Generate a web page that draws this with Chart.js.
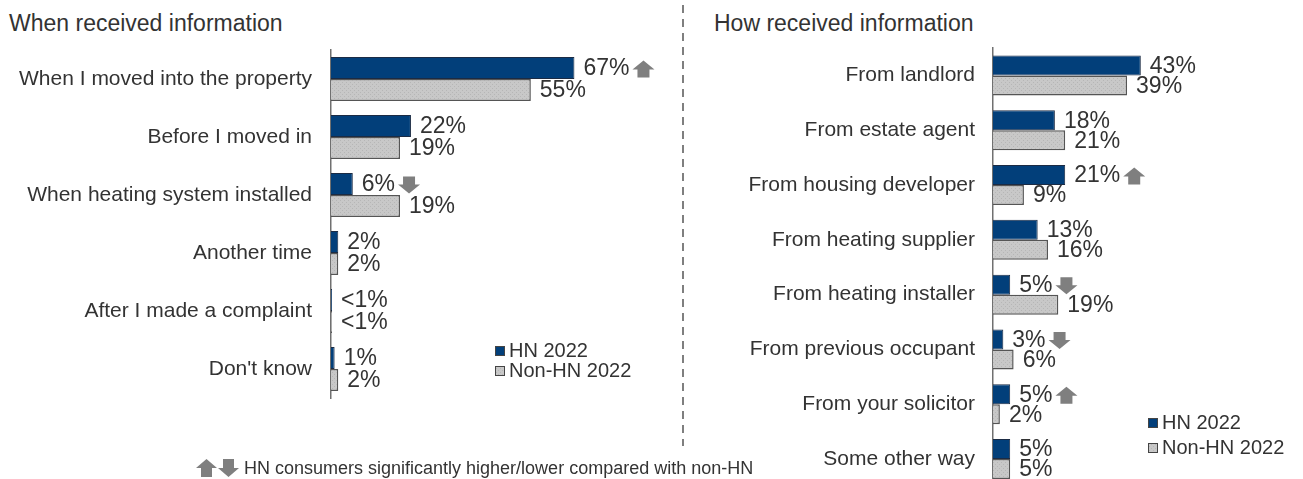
<!DOCTYPE html>
<html>
<head>
<meta charset="utf-8">
<script src="https://cdn.jsdelivr.net/npm/chart.js@4.4.1/dist/chart.umd.min.js"></script>
<style>
  html, body { margin: 0; padding: 0; background: #fff; width: 1303px; height: 479px; overflow: hidden;
    font-family: 'Liberation Sans', Arial, sans-serif; color: #333; }
  .title { position: absolute; top: 9px; font-size: 23px; line-height: 28px; white-space: nowrap; color: #333; }
  #leftBox { position: absolute; left: 0; top: 0; width: 683px; height: 479px; }
  #rightBox { position: absolute; left: 683px; top: 0; width: 620px; height: 500px; }
  #divider { position: absolute; left: 0; top: 0; }
  #footnote { position: absolute; left: 196px; top: 457px; height: 22px; display: flex; align-items: center;
    font-size: 18px; color: #333; white-space: nowrap; }
  #footnote svg { margin-right: 5px; }
</style>
</head>
<body>
<svg id="divider" width="1303" height="479">
  <line x1="683" y1="5" x2="683" y2="446" stroke="#7f7f7f" stroke-width="2" stroke-dasharray="8 6"/>
</svg>
<div class="title" style="left:9px">When received information</div>
<div class="title" style="left:714px">How received information</div>
<div id="leftBox"><canvas id="leftChart" width="683" height="479"></canvas></div>
<div id="rightBox"><canvas id="rightChart" width="620" height="500"></canvas></div>
<div id="footnote">
  <svg width="43" height="18" viewBox="0 0 43 18">
    <path d="M0 9 L10.5 0 L21 9 L16 9 L16 18 L5 18 L5 9 Z" fill="#7f7f7f"/>
    <path d="M22 9 L27 9 L27 0 L38 0 L38 9 L43 9 L32.5 18 Z" fill="#7f7f7f"/>
  </svg>
  <span>HN consumers significantly higher/lower compared with non-HN</span>
</div>

<script>
// ---- Data: when the information was received ----
const whenCategories = [
  'When I moved into the property',
  'Before I moved in',
  'When heating system installed',
  'Another time',
  'After I made a complaint',
  "Don't know"
];
const whenHN    = [67, 22, 6, 2, 0.3, 1];
const whenNonHN = [55, 19, 19, 2, 0.3, 2];
const whenSignificance = ['up', null, 'down', null, null, null];

// ---- Data: how the information was received ----
const howCategories = [
  'From landlord',
  'From estate agent',
  'From housing developer',
  'From heating supplier',
  'From heating installer',
  'From previous occupant',
  'From your solicitor',
  'Some other way'
];
const howHN    = [43, 18, 21, 13, 5, 3, 5, 5];
const howNonHN = [39, 21, 9, 16, 19, 6, 2, 5];
const howSignificance = [null, null, 'up', null, 'down', 'down', 'up', null];

const seriesNames = ['HN 2022', 'Non-HN 2022'];

const FONT = "'Liberation Sans', Arial, sans-serif";
Chart.defaults.font.family = FONT;
Chart.defaults.color = '#333';

const NAVY = '#023f7a';

// Light grey fill with a fine stipple, used for the Non-HN bars
function stipple() {
  const c = document.createElement('canvas');
  c.width = 4; c.height = 4;
  const g = c.getContext('2d');
  g.fillStyle = '#c8c8c8';
  g.fillRect(0, 0, 4, 4);
  g.fillStyle = '#b6b6b6';
  g.fillRect(0, 0, 1, 1);
  g.fillRect(2, 2, 1, 1);
  return g.createPattern(c, 'repeat');
}
const GREY = stipple();

// Block arrow marking a significant difference
function drawArrow(ctx, x, top, dir) {
  const w = 22, h = 17, head = 9, stem = 12;
  const cx = x + w / 2;
  ctx.beginPath();
  if (dir === 'up') {
    ctx.moveTo(x, top + head);
    ctx.lineTo(cx, top);
    ctx.lineTo(x + w, top + head);
    ctx.lineTo(cx + stem / 2, top + head);
    ctx.lineTo(cx + stem / 2, top + h);
    ctx.lineTo(cx - stem / 2, top + h);
    ctx.lineTo(cx - stem / 2, top + head);
  } else {
    ctx.moveTo(cx - stem / 2, top);
    ctx.lineTo(cx + stem / 2, top);
    ctx.lineTo(cx + stem / 2, top + h - head);
    ctx.lineTo(x + w, top + h - head);
    ctx.lineTo(cx, top + h);
    ctx.lineTo(x, top + h - head);
    ctx.lineTo(cx - stem / 2, top + h - head);
  }
  ctx.closePath();
  ctx.fillStyle = '#7f7f7f';
  ctx.fill();
}

// Percentage labels at the end of each bar, plus significance arrows
const valueLabels = {
  id: 'valueLabels',
  afterDatasetsDraw(chart, args, opts) {
    const ctx = chart.ctx;
    ctx.save();
    ctx.font = opts.size + 'px ' + FONT;
    ctx.textBaseline = 'middle';
    ctx.textAlign = 'left';
    chart.data.datasets.forEach((ds, di) => {
      chart.getDatasetMeta(di).data.forEach((bar, i) => {
        const v = ds.data[i];
        const txt = v < 1 ? '<1%' : Math.round(v) + '%';
        const x = bar.x + 9;
        ctx.fillStyle = '#333';
        ctx.fillText(txt, x, bar.y + 1);
        if (di === 0 && opts.sig[i]) {
          const w = ctx.measureText(txt).width;
          drawArrow(ctx, x + w + 3, bar.y - 7.5, opts.sig[i]);
        }
      });
    });
    ctx.restore();
  }
};

// Compact square-marker legend placed inside the plot
const boxLegend = {
  id: 'boxLegend',
  afterDraw(chart, args, o) {
    const ctx = chart.ctx;
    ctx.save();
    ctx.font = '20px ' + FONT;
    ctx.textBaseline = 'middle';
    ctx.textAlign = 'left';
    chart.data.datasets.forEach((ds, i) => {
      const y = o.y + i * o.gap;
      ctx.fillStyle = ds.backgroundColor;
      ctx.fillRect(o.x, y - 5, 10, 10);
      ctx.strokeStyle = '#444';
      ctx.lineWidth = 1;
      ctx.strokeRect(o.x + 0.5, y - 4.5, 9, 9);
      ctx.fillStyle = '#333';
      ctx.fillText(ds.label, o.x + 14, y);
    });
    ctx.restore();
  }
};

function makeChart(id, cats, hn, nonHn, sig, cfg) {
  return new Chart(document.getElementById(id), {
    type: 'bar',
    data: {
      labels: cats,
      datasets: [
        { label: seriesNames[0], data: hn, backgroundColor: NAVY, borderColor: '#1b2b44', borderWidth: 1 },
        { label: seriesNames[1], data: nonHn, backgroundColor: GREY, borderColor: '#555', borderWidth: 1.5 }
      ]
    },
    plugins: [valueLabels, boxLegend],
    options: {
      indexAxis: 'y',
      responsive: false,
      animation: false,
      categoryPercentage: cfg.catPct,
      barPercentage: 1,
      layout: { padding: cfg.padding },
      scales: {
        x: { display: false, min: 0, max: cfg.max },
        y: {
          afterFit(scale) {
            // fixed axis width; the plot area edges are set by the layout padding alone
            scale.width = cfg.axisWidth;
            scale.paddingTop = 0;
            scale.paddingBottom = 0;
          },
          grid: { display: false, drawTicks: false },
          border: { display: true, color: '#707070', width: 1.5 },
          ticks: { color: '#333', font: { size: 21 }, padding: cfg.tickPad, autoSkip: false }
        }
      },
      plugins: {
        legend: { display: false },
        tooltip: { enabled: false },
        valueLabels: { size: 23, sig: sig },
        boxLegend: cfg.legend
      }
    }
  });
}

makeChart('leftChart', whenCategories, whenHN, whenNonHN, whenSignificance, {
  max: 90, axisWidth: 331, tickPad: 19, catPct: 0.76,
  padding: { top: 50, bottom: 81, left: 0, right: 25 },
  legend: { x: 495, y: 351, gap: 20 }
});

// The last category runs past the bottom edge of the page, so this canvas is taller than the view
makeChart('rightChart', howCategories, howHN, howNonHN, howSignificance, {
  max: 80, axisWidth: 310, tickPad: 18, catPct: 0.73,
  padding: { top: 48, bottom: 13.5, left: 0, right: 35 },
  legend: { x: 465, y: 423, gap: 25 }
});
</script>
</body>
</html>
